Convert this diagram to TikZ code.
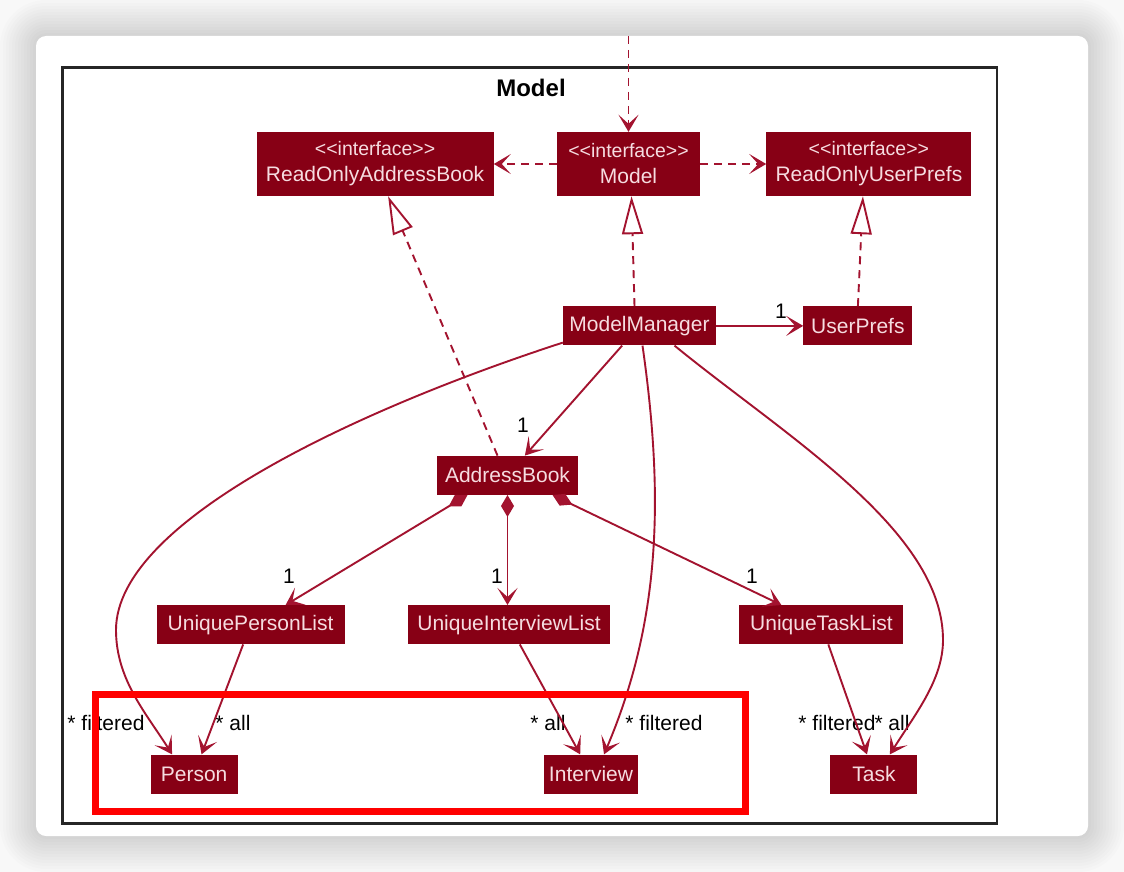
\documentclass[tikz,border=0pt]{standalone}
\usepackage{fontspec}
\setmainfont{Liberation Sans}
\usepackage{xcolor}
\usetikzlibrary{positioning,arrows.meta}
\definecolor{umlfill}{HTML}{870015}
\definecolor{umltext}{HTML}{F6DCE0}
\definecolor{umlline}{HTML}{A3132F}
\definecolor{pagebg}{HTML}{F8F8F8}

\begin{document}
\begin{tikzpicture}[x=1pt, y=-1pt,
			cls/.style={rectangle, fill=umlfill, text=umltext, minimum height=39pt, inner sep=0pt, font=\fontsize{21}{25}\selectfont},
			iface/.style={cls, minimum height=64pt, align=center},
			lbl/.style={text=black, inner sep=0pt, font=\fontsize{21}{25}\selectfont},
			assoc/.style={draw=umlline, line width=1.9pt, arrows={-Stealth[length=17pt,width=20pt,inset=9pt]}},
			dep/.style={assoc, dash pattern=on 8pt off 6pt},
			real/.style={draw=umlline, line width=1.9pt, dash pattern=on 8pt off 6pt, arrows={-Triangle[open,length=38pt,width=21pt,fill=white]}},
			comp/.style={assoc, arrows={Diamond[length=22pt,width=13pt]-Stealth[length=17pt,width=20pt,inset=9pt]}}]
			\useasboundingbox (0,0) rectangle (1124,872);
			\fill[pagebg] (0,0) rectangle (1124,872);
			\foreach \d [evaluate=\d as \rr using 10+3*\d] in {1,...,12}
				\fill[black, opacity=0.012, rounded corners=\rr pt] ({36-3*\d},{36-3*\d}) rectangle ({1088+3*\d},{836+3*\d});
			\fill[white, rounded corners=10pt] (36,36) rectangle (1088,836);
			\draw[black!85, line width=2.5pt] (62.5,67.5) rectangle (997,823.5);
			\node[font=\bfseries\fontsize{24}{28}\selectfont] (title) at (531,88) {Model};
			\node[iface, minimum width=143pt] (model) at (628.5,164) {{\fontsize{19.5}{20}\selectfont <{}<interface>{}>}\\[1pt]Model};
			\node[iface, minimum width=237pt] (rab) [left=63pt of model] {{\fontsize{19.5}{20}\selectfont <{}<interface>{}>}\\[1pt]ReadOnlyAddressBook};
			\node[iface, minimum width=205pt] (rup) [right=66pt of model] {{\fontsize{19.5}{20}\selectfont <{}<interface>{}>}\\[1pt]ReadOnlyUserPrefs};
			\node[cls, minimum width=153pt] (mm) [below=110pt of model, xshift=11pt] {ModelManager};
			\node[cls, minimum width=109pt] (up) [right=87pt of mm] {UserPrefs};
			\node[cls, minimum width=141pt] (ab) [below=110pt of mm, xshift=-132pt] {AddressBook};
			\node[cls, minimum width=202pt] (uil) [below=110pt of ab, xshift=1.5pt] {UniqueInterviewList};
			\node[cls, minimum width=188pt] (upl) [left=63pt of uil] {UniquePersonList};
			\node[cls, minimum width=164pt] (utl) [right=129pt of uil] {UniqueTaskList};
			\node[cls, minimum width=87pt] (person) [below=110pt of upl, xshift=-56.5pt] {Person};
			\node[cls, minimum width=94pt] (interview) [below=110pt of uil, xshift=82pt] {Interview};
			\node[cls, minimum width=87pt] (task) [below=110pt of utl, xshift=52.5pt] {Task};
			\coordinate (logic) at ([yshift=96pt]model.north);
			\coordinate (pbend) at (116,630);
			\coordinate (tbend) at (943,640);
			\node[lbl] (mUp) at (781,311) {1};
			\node[lbl] (mAb) at (523,425) {1};
			\node[lbl] (mUpl) at (289,576) {1};
			\node[lbl] (mUil) at (497,576) {1};
			\node[lbl] (mUtl) at (752,576) {1};
			\node[lbl] (pFil) at (106,723) {* filtered};
			\node[lbl] (pAll) at (233,723) {* all};
			\node[lbl] (iAll) at (548,723) {* all};
			\node[lbl] (iFil) at (664,723) {* filtered};
			\node[lbl] (tFil) at (837,723) {* filtered};
			\node[lbl] (tAll) at (892,723) {* all};
			\draw[dep] (logic) -- (model);
			\draw[dep] (model) -- (rab);
			\draw[dep] (model) -- (rup);
			\draw[real] ([xshift=-5pt]mm.north) -- ([xshift=3pt]model.south);
			\draw[real] (up.north) -- ([xshift=-6pt]rup.south);
			\draw[real] ([xshift=-10pt]ab.north) -- ([xshift=13pt]rab.south);
			\draw[assoc] (mm) -- (up);
			\draw[assoc] (mm) -- (ab);
			\draw[assoc] ([yshift=3pt]mm.south west) .. controls +(-200,65) and +(0,-110) .. (pbend) .. controls +(0,50) and +(-25,-40) .. ([xshift=-22pt]person.north);
			\draw[assoc] ([xshift=3pt]mm.south) .. controls +(22,154) and +(56,-132) .. ([xshift=13pt]interview.north);
			\draw[assoc] ([xshift=35pt]mm.south) .. controls +(110,90) and +(0,-110) .. (tbend) .. controls +(0,40) and +(25,-40) .. ([xshift=16pt]task.north);
			\draw[comp] ([xshift=-40pt]ab.south) -- ([xshift=35pt]upl.north);
			\draw[comp] (ab.south) -- (ab.south |- uil.north);
			\draw[comp] ([xshift=45pt]ab.south) -- ([xshift=-40pt]utl.north);
			\draw[assoc] (upl) -- (person);
			\draw[assoc] (uil) -- (interview);
			\draw[assoc] (utl) -- (task);
			\draw[red, line width=6.5pt] (95.5,694.5) rectangle (745.5,811.5);
		\end{tikzpicture}
\end{document}
